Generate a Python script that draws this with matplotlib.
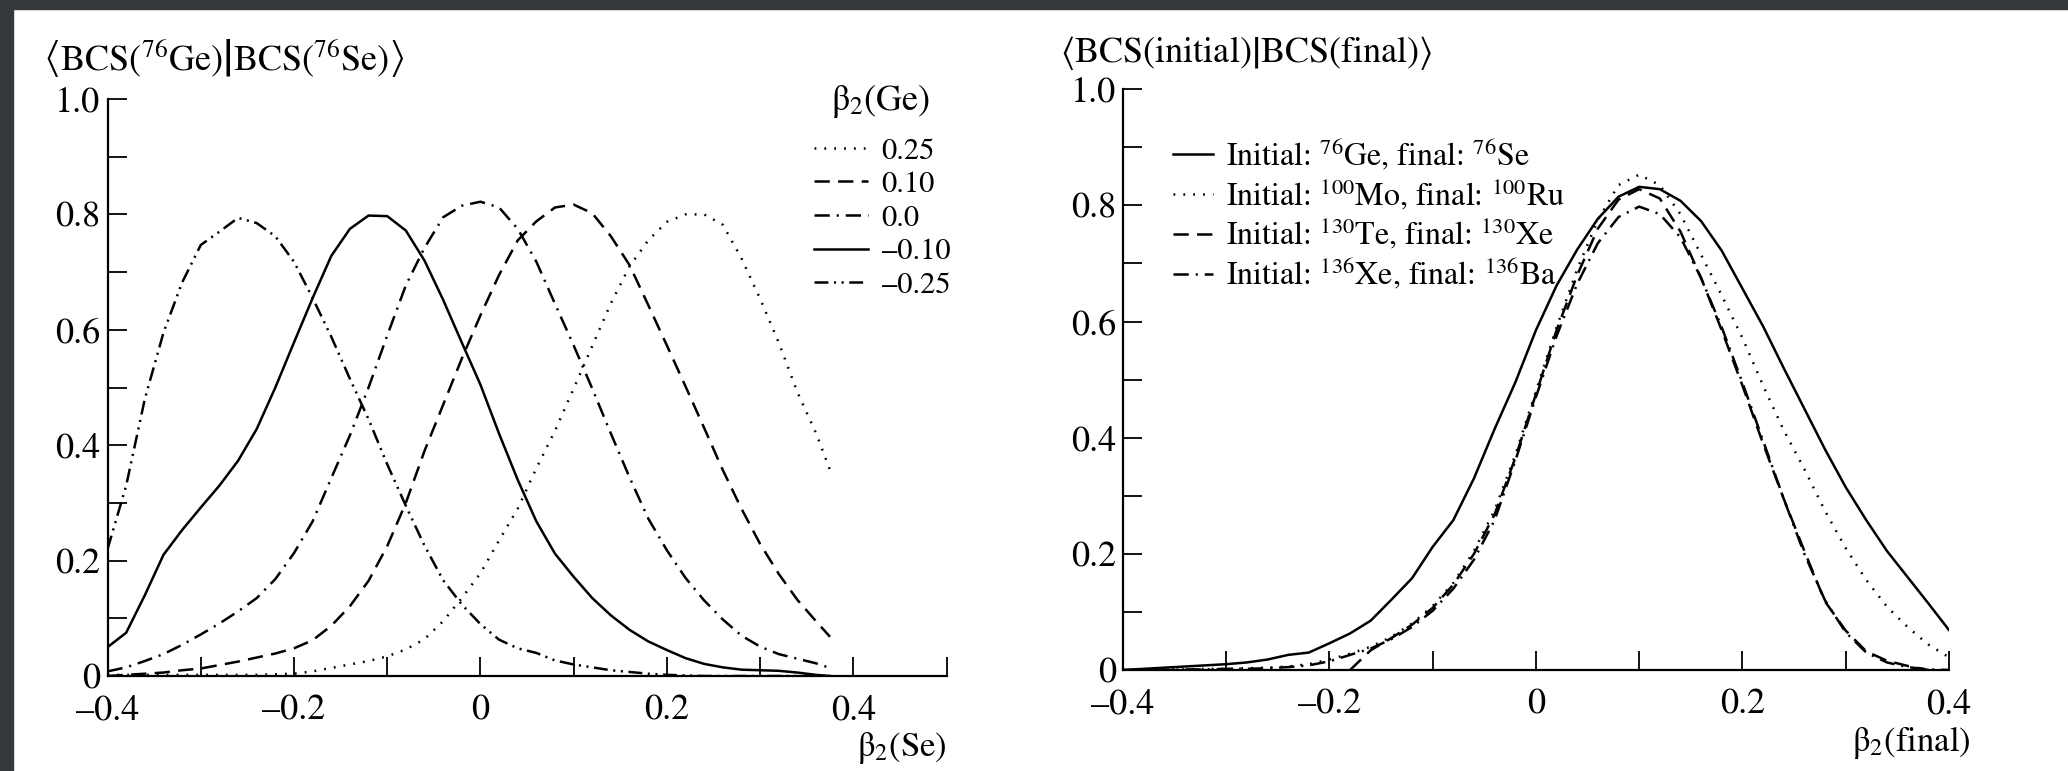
import matplotlib
matplotlib.use("Agg")
import matplotlib.pyplot as plt
from matplotlib.patches import Rectangle

plt.rcParams['font.family'] = ['STIXGeneral', 'DejaVu Serif']
plt.rcParams['mathtext.fontset'] = 'stix'
plt.rcParams['lines.scale_dashes'] = False

# ---- left panel: overlap vs beta2(Se) for several beta2(Ge) ----
beta_se = [-0.40, -0.38, -0.36, -0.34, -0.32, -0.30, -0.28, -0.26, -0.24, -0.22,
           -0.20, -0.18, -0.16, -0.14, -0.12, -0.10, -0.08, -0.06, -0.04, -0.02,
           0.00, 0.02, 0.04, 0.06, 0.08, 0.10, 0.12, 0.14, 0.16, 0.18,
           0.20, 0.22, 0.24, 0.26, 0.28, 0.30, 0.32, 0.34, 0.36, 0.375]

ge_p025 = [0.002, 0.002, 0.002, 0.002, 0.002, 0.002, 0.002, 0.002, 0.002, 0.003,
           0.004, 0.008, 0.014, 0.020, 0.026, 0.034, 0.046, 0.064, 0.095, 0.135,
           0.178, 0.235, 0.290, 0.360, 0.425, 0.498, 0.572, 0.646, 0.710, 0.755,
           0.787, 0.800, 0.800, 0.782, 0.724, 0.654, 0.578, 0.492, 0.421, 0.357]
ge_p010 = [0.000, 0.002, 0.004, 0.006, 0.010, 0.013, 0.019, 0.025, 0.032, 0.039,
           0.048, 0.062, 0.087, 0.121, 0.165, 0.225, 0.300, 0.390, 0.470, 0.550,
           0.625, 0.695, 0.755, 0.788, 0.812, 0.817, 0.802, 0.762, 0.712, 0.643,
           0.573, 0.502, 0.430, 0.357, 0.290, 0.229, 0.177, 0.132, 0.095, 0.068]
ge_0 = [0.008, 0.015, 0.026, 0.038, 0.054, 0.072, 0.091, 0.112, 0.135, 0.168,
        0.213, 0.268, 0.343, 0.417, 0.500, 0.590, 0.677, 0.742, 0.795, 0.815,
        0.822, 0.812, 0.775, 0.718, 0.645, 0.573, 0.498, 0.420, 0.344, 0.273,
        0.218, 0.170, 0.131, 0.098, 0.070, 0.051, 0.038, 0.030, 0.022, 0.014]
ge_m010 = [0.050, 0.075, 0.140, 0.210, 0.253, 0.292, 0.330, 0.373, 0.428, 0.500,
           0.578, 0.655, 0.728, 0.775, 0.798, 0.797, 0.772, 0.720, 0.652, 0.578,
           0.505, 0.420, 0.340, 0.268, 0.212, 0.172, 0.135, 0.105, 0.080, 0.060,
           0.045, 0.031, 0.021, 0.015, 0.011, 0.010, 0.009, 0.006, 0.002, 0.000]
ge_m025 = [0.220, 0.330, 0.480, 0.595, 0.682, 0.747, 0.770, 0.794, 0.785, 0.762,
           0.718, 0.655, 0.588, 0.515, 0.445, 0.367, 0.295, 0.226, 0.166, 0.124,
           0.090, 0.063, 0.048, 0.040, 0.027, 0.020, 0.015, 0.010, 0.007, 0.004,
           0.002, 0.001, 0.000, 0.000, 0.000, 0.000, 0.000, 0.000, 0.000, 0.000]
ge_labels = ['0.25', '0.10', '0.0', '–0.10', '–0.25']

# ---- right panel: overlap vs beta2(final) for four decays ----
beta_fin = [-0.40, -0.38, -0.36, -0.34, -0.32, -0.30, -0.28, -0.26, -0.24, -0.22,
            -0.20, -0.18, -0.16, -0.14, -0.12, -0.10, -0.08, -0.06, -0.04, -0.02,
            0.00, 0.02, 0.04, 0.06, 0.08, 0.10, 0.12, 0.14, 0.16, 0.18,
            0.20, 0.22, 0.24, 0.26, 0.28, 0.30, 0.32, 0.34, 0.36, 0.38, 0.40]
ge_se = [0.000, 0.002, 0.004, 0.006, 0.008, 0.010, 0.013, 0.018, 0.026, 0.030,
         0.046, 0.063, 0.085, 0.121, 0.158, 0.212, 0.258, 0.330, 0.415, 0.495,
         0.585, 0.662, 0.724, 0.777, 0.815, 0.832, 0.828, 0.808, 0.773, 0.722,
         0.657, 0.592, 0.520, 0.450, 0.380, 0.315, 0.258, 0.205, 0.160, 0.115, 0.069]
mo_ru = [0.000, 0.000, 0.001, 0.001, 0.002, 0.002, 0.003, 0.004, 0.006, 0.010,
         0.018, 0.028, 0.040, 0.057, 0.080, 0.110, 0.150, 0.205, 0.275, 0.370,
         0.480, 0.590, 0.690, 0.775, 0.835, 0.853, 0.835, 0.785, 0.715, 0.645,
         0.572, 0.490, 0.413, 0.346, 0.274, 0.210, 0.155, 0.109, 0.074, 0.044, 0.022]
beta_te = [-0.18, -0.16, -0.14, -0.12, -0.10, -0.08, -0.06, -0.04, -0.02,
           0.00, 0.02, 0.04, 0.06, 0.08, 0.10, 0.12, 0.14, 0.16, 0.18,
           0.20, 0.22, 0.24, 0.26, 0.28, 0.30, 0.32, 0.34, 0.36, 0.38]
te_xe = [0.000, 0.034, 0.055, 0.078, 0.107, 0.147, 0.200, 0.268, 0.365,
         0.475, 0.585, 0.680, 0.760, 0.810, 0.828, 0.812, 0.755, 0.675, 0.585,
         0.490, 0.390, 0.295, 0.205, 0.118, 0.068, 0.032, 0.016, 0.007, 0.000]
xe_ba = [0.000, 0.000, 0.000, 0.001, 0.001, 0.002, 0.002, 0.003, 0.005, 0.008,
         0.015, 0.026, 0.037, 0.053, 0.074, 0.102, 0.140, 0.190, 0.258, 0.360,
         0.470, 0.575, 0.665, 0.735, 0.780, 0.798, 0.785, 0.745, 0.675, 0.590,
         0.495, 0.395, 0.295, 0.200, 0.120, 0.065, 0.030, 0.013, 0.005, 0.001, 0.000]
decay_labels = ['Initial: $^{76}$Ge, final: $^{76}$Se',
                'Initial: $^{100}$Mo, final: $^{100}$Ru',
                'Initial: $^{130}$Te, final: $^{130}$Xe',
                'Initial: $^{136}$Xe, final: $^{136}$Ba']

xticks = [-0.4, -0.2, 0, 0.2, 0.4]
xtick_labels = ['–0.4', '–0.2', '0', '0.2', '0.4']
yticks = [0, 0.2, 0.4, 0.6, 0.8, 1.0]
ytick_labels = ['0', '0.2', '0.4', '0.6', '0.8', '1.0']

DOT = (0, (1.3, 5.8))
DASH = (0, (11, 6))
DASHDOT = (0, (11, 5, 1.5, 5))
DASHDOTDOT = (0, (10, 4, 1.5, 4, 1.5, 4))
LW = 1.8

fig = plt.figure(figsize=(20.68, 7.71), dpi=100)
fig.patches.append(Rectangle((0, 0), 13 / 2068, 1, transform=fig.transFigure,
                             color='#35383c', zorder=-1))
fig.patches.append(Rectangle((0, 1 - 9 / 771), 1, 9 / 771, transform=fig.transFigure,
                             color='#35383c', zorder=-1))

ax1 = fig.add_axes([0.0520, 0.1232, 0.4057, 0.7484])
ax2 = fig.add_axes([0.5430, 0.1310, 0.3994, 0.7532])


def style(ax, xmax):
    ax.set_xlim(-0.4, xmax)
    ax.set_ylim(0, 1.0)
    for s in ['top', 'right']:
        ax.spines[s].set_visible(False)
    for s in ['left', 'bottom']:
        ax.spines[s].set_linewidth(1.6)
    ax.set_xticks(xticks)
    ax.set_xticklabels(xtick_labels)
    ax.set_yticks(yticks)
    ax.set_yticklabels(ytick_labels)
    minor_x = [-0.3, -0.1, 0.1, 0.3] + ([0.5] if xmax > 0.45 else [])
    ax.set_xticks(minor_x, minor=True)
    ax.set_yticks([0.1, 0.3, 0.5, 0.7, 0.9], minor=True)
    ax.tick_params(which='both', direction='in', length=14, width=1.3,
                   labelsize=26)
    ax.tick_params(axis='x', which='both', pad=13)
    ax.tick_params(axis='y', which='both', pad=5)


# left
ax1.plot(beta_se, ge_p025, color='black', lw=LW, ls=DOT, label=ge_labels[0])
ax1.plot(beta_se, ge_p010, color='black', lw=LW, ls=DASH, label=ge_labels[1])
ax1.plot(beta_se, ge_0, color='black', lw=LW, ls=DASHDOT, label=ge_labels[2])
ax1.plot(beta_se, ge_m010, color='black', lw=LW, ls='-', label=ge_labels[3])
ax1.plot(beta_se, ge_m025, color='black', lw=LW, ls=DASHDOTDOT, label=ge_labels[4])
style(ax1, 0.5)
ax1.legend(frameon=False, loc='upper left', bbox_to_anchor=(0.828, 0.955),
           fontsize=22, handlelength=1.75, handletextpad=0.45, labelspacing=0.17,
           borderaxespad=0)
fig.text(881 / 2068, 1 - 101 / 771, 'β$_2$(Ge)', fontsize=26,
         ha='center', va='center')

# right
ax2.plot(beta_fin, ge_se, color='black', lw=LW, ls='-', label=decay_labels[0])
ax2.plot(beta_fin, mo_ru, color='black', lw=LW, ls=DOT, label=decay_labels[1])
ax2.plot(beta_te, te_xe, color='black', lw=LW, ls=DASH, label=decay_labels[2])
ax2.plot(beta_fin, xe_ba, color='black', lw=LW, ls=DASHDOT, label=decay_labels[3])
style(ax2, 0.4)
ax2.legend(frameon=False, loc='upper left', bbox_to_anchor=(0.045, 0.94),
           fontsize=23, handlelength=1.25, handletextpad=0.4, labelspacing=0.14,
           borderaxespad=0)

# axis titles
fig.text(0.0208, 0.925,
         r'$\left\langle \mathrm{BCS}(^{76}\mathrm{Ge}) \right|\left. \mathrm{BCS}(^{76}\mathrm{Se}) \right\rangle$',
         fontsize=26, ha='left', va='center')
fig.text(0.5126, 0.931,
         r'$\left\langle \mathrm{BCS(initial)} \right|\left. \mathrm{BCS(final)} \right\rangle$',
         fontsize=26, ha='left', va='center')
fig.text(0.458, 0.030, 'β$_2$(Se)', fontsize=25, ha='right', va='center')
fig.text(0.953, 0.037, 'β$_2$(final)', fontsize=25, ha='right', va='center')

fig.savefig('out.png', dpi=100)
